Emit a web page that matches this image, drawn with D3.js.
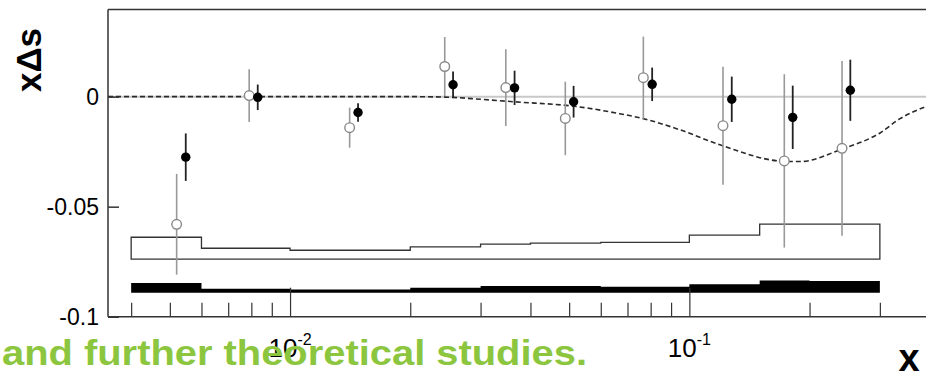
<!DOCTYPE html>
<html>
<head>
<meta charset="utf-8">
<script src="https://cdn.jsdelivr.net/npm/d3@7"></script>
<style>
  html, body { margin: 0; padding: 0; background: #fff; }
  svg { display: block; }
  text { font-family: "Liberation Sans", Arial, Helvetica, sans-serif; }
</style>
</head>
<body>
<svg id="chart" width="926" height="376"></svg>
<script>
// Strange-quark helicity distribution x·Δs versus x

// Open markers: first extraction
const xOpen   = [0.0052, 0.0079, 0.0141, 0.0244, 0.0347, 0.0489, 0.0767, 0.1214, 0.1729, 0.2412];
const yOpen   = [-0.0580, 0.0005, -0.0141, 0.0137, 0.0041, -0.0099, 0.0086, -0.0132, -0.0292, -0.0235];
const errOpen = [0.0229, 0.0120, 0.0091, 0.0134, 0.0174, 0.0167, 0.0187, 0.0268, 0.0394, 0.0397];

// Filled markers: second extraction
const xFilled   = [0.00548, 0.0083, 0.0148, 0.0256, 0.0365, 0.0513, 0.0807, 0.1277, 0.1815, 0.2530];
const yFilled   = [-0.0275, -0.0003, -0.0072, 0.0054, 0.0040, -0.0023, 0.0056, -0.0012, -0.0094, 0.0029];
const errFilled = [0.0108, 0.0058, 0.0042, 0.0060, 0.0078, 0.0072, 0.0076, 0.0103, 0.0144, 0.0139];

// Parametrisation curve (dashed)
const curveX = [0.0035, 0.02, 0.0252, 0.030, 0.0362, 0.0522, 0.0658, 0.0767, 0.0948, 0.1214, 0.1729, 0.1893, 0.2412, 0.3003, 0.337, 0.3916];
const curveY = [0, 0, -0.0003, -0.0012, -0.0023, -0.0045, -0.0075, -0.0100, -0.0151, -0.0224, -0.0294, -0.0295, -0.0238, -0.0165, -0.0100, -0.0045];

// Systematic-uncertainty bands per x bin
const binEdges   = [0.004, 0.006, 0.01, 0.02, 0.03, 0.04, 0.06, 0.1, 0.15, 0.2, 0.3];
const boxTop     = [-0.0639, -0.0689, -0.0698, -0.0683, -0.0670, -0.0666, -0.0662, -0.0629, -0.0579, -0.0579];
const boxBase    = -0.0738;
const bandTop    = [-0.0847, -0.0873, -0.0876, -0.0868, -0.0861, -0.0860, -0.0864, -0.0852, -0.0835, -0.0838];
const bandBase   = -0.0891;

// Axis ticks
const xMinorTicks = [0.004, 0.005, 0.006, 0.007, 0.008, 0.009, 0.02, 0.03, 0.04, 0.05, 0.06, 0.07, 0.08, 0.09, 0.2, 0.3];
const xMajorTicks = [0.01, 0.1];
const xMajorExp   = ["-2", "-1"];
const yTicks      = [0, -0.05, -0.1];
const yTickLabels = ["0", "-0.05", "-0.1"];

const svg = d3.select("#chart");
const W = 926;
const plotLeft = 108, plotTop = 9.5, plotBottom = 316.7;
const decade = 399.3;

const x = d3.scaleLog()
  .domain([0.0035, 0.4])
  .range([plotLeft, plotLeft + decade * Math.log10(0.4 / 0.0035)]);
const y = d3.scaleLinear()
  .domain([-0.1, 0.0396])
  .range([plotBottom, plotTop]);

const axisColor = "#333";

// zero reference line
svg.append("line")
  .attr("x1", plotLeft).attr("x2", W)
  .attr("y1", y(0)).attr("y2", y(0))
  .attr("stroke", "#c8c8c8").attr("stroke-width", 2);

// open systematic box (step outline)
const boxPts = [];
boxPts.push([x(binEdges[0]), y(boxBase)]);
boxTop.forEach((v, i) => {
  boxPts.push([x(binEdges[i]), y(v)]);
  boxPts.push([x(binEdges[i + 1]), y(v)]);
});
boxPts.push([x(binEdges[binEdges.length - 1]), y(boxBase)]);
svg.append("path")
  .attr("d", d3.line()(boxPts) + "Z")
  .attr("fill", "none").attr("stroke", "#333").attr("stroke-width", 1.3);

// filled systematic band
const bandArea = d3.area()
  .x(d => x(d[0]))
  .y0(y(bandBase))
  .y1(d => y(d[1]))
  .curve(d3.curveStepAfter);
const bandPts = bandTop.map((v, i) => [binEdges[i], v]);
bandPts.push([binEdges[binEdges.length - 1], bandTop[bandTop.length - 1]]);
svg.append("path")
  .attr("d", bandArea(bandPts))
  .attr("fill", "#000");

// dashed curve
svg.append("path")
  .datum(curveX.map((v, i) => [v, curveY[i]]))
  .attr("d", d3.line().x(d => x(d[0])).y(d => y(d[1])).curve(d3.curveMonotoneX))
  .attr("fill", "none").attr("stroke", "#2a2a2a")
  .attr("stroke-width", 1.6).attr("stroke-dasharray", "5,3");

// open points with error bars
const gOpen = svg.append("g");
xOpen.forEach((xv, i) => {
  gOpen.append("line")
    .attr("x1", x(xv)).attr("x2", x(xv))
    .attr("y1", y(yOpen[i] + errOpen[i])).attr("y2", y(yOpen[i] - errOpen[i]))
    .attr("stroke", "#999").attr("stroke-width", 1.6);
  gOpen.append("circle")
    .attr("cx", x(xv)).attr("cy", y(yOpen[i])).attr("r", 4.8)
    .attr("fill", "#fff").attr("stroke", "#888").attr("stroke-width", 1.4);
});

// filled points with error bars
const gFilled = svg.append("g");
xFilled.forEach((xv, i) => {
  gFilled.append("line")
    .attr("x1", x(xv)).attr("x2", x(xv))
    .attr("y1", y(yFilled[i] + errFilled[i])).attr("y2", y(yFilled[i] - errFilled[i]))
    .attr("stroke", "#222").attr("stroke-width", 1.8);
  gFilled.append("circle")
    .attr("cx", x(xv)).attr("cy", y(yFilled[i])).attr("r", 4.7)
    .attr("fill", "#000");
});

// frame: top edge
svg.append("line")
  .attr("x1", plotLeft).attr("x2", W).attr("y1", plotTop).attr("y2", plotTop)
  .attr("stroke", axisColor).attr("stroke-width", 1.5);

// x axis: minor and major ticks pointing up into the plot
const xMinorAxis = d3.axisBottom(x).tickValues(xMinorTicks).tickSize(-14).tickFormat("");
const xMajorAxis = d3.axisBottom(x).tickValues(xMajorTicks).tickSize(-29).tickFormat("");
[xMinorAxis, xMajorAxis].forEach(ax => {
  const g = svg.append("g").attr("transform", `translate(0,${plotBottom})`).call(ax);
  g.select(".domain").remove();
  g.selectAll(".tick line").attr("stroke", axisColor).attr("stroke-width", 1.2);
});
svg.append("line")
  .attr("x1", plotLeft).attr("x2", W).attr("y1", plotBottom).attr("y2", plotBottom)
  .attr("stroke", axisColor).attr("stroke-width", 1.5);

// decade labels 10^n
xMajorTicks.forEach((t, i) => {
  const lbl = svg.append("text")
    .attr("x", x(t)).attr("y", 357)
    .attr("text-anchor", "middle")
    .attr("font-size", 26).attr("fill", "#000");
  lbl.append("tspan").text("10");
  lbl.append("tspan").attr("dy", -12).attr("font-size", 16).text(xMajorExp[i]);
});

// y axis
const yAxis = d3.axisLeft(y).tickValues(yTicks).tickSize(-11).tickPadding(20)
  .tickFormat((d, i) => yTickLabels[i]);
const gy = svg.append("g").attr("transform", `translate(${plotLeft},0)`).call(yAxis);
gy.select(".domain").remove();
gy.selectAll(".tick line").attr("stroke", axisColor).attr("stroke-width", 1.5);
gy.selectAll(".tick text")
  .attr("x", -9).attr("dy", "0.36em")
  .attr("font-size", 23).attr("fill", "#000")
  .style("font-family", '"Liberation Sans", Arial, sans-serif');
svg.append("line")
  .attr("x1", plotLeft).attr("x2", plotLeft).attr("y1", plotTop).attr("y2", plotBottom)
  .attr("stroke", axisColor).attr("stroke-width", 1.5);

// axis titles
svg.append("text")
  .attr("transform", "translate(41,60) rotate(-90)")
  .attr("text-anchor", "middle")
  .attr("font-size", 35).attr("font-weight", "bold").attr("fill", "#000")
  .text("xΔs");
svg.append("text")
  .attr("x", 909).attr("y", 371)
  .attr("text-anchor", "middle")
  .attr("font-size", 38).attr("font-weight", "bold").attr("fill", "#000")
  .text("x");

// caption overlay
svg.append("text")
  .attr("x", 2).attr("y", 365)
  .attr("font-size", 35).attr("font-weight", "bold").attr("fill", "#8cc63f")
  .attr("textLength", 585).attr("lengthAdjust", "spacingAndGlyphs")
  .text("and further theoretical studies.");
</script>
</body>
</html>
